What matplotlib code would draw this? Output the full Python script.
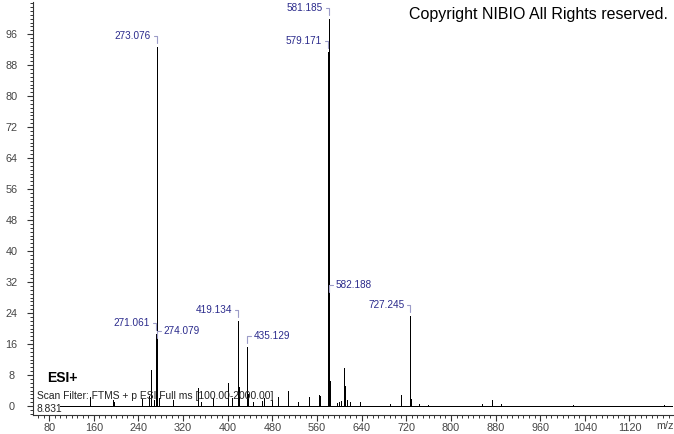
import matplotlib
matplotlib.use('Agg')
import matplotlib.pyplot as plt
from matplotlib.ticker import MultipleLocator
plt.rcParams['font.family'] = ['Liberation Sans', 'DejaVu Sans']

# labelled peaks (m/z, relative abundance)
label_mz = [271.061, 273.076, 274.079, 419.134, 435.129, 579.171, 581.185, 582.188, 727.245]
label_int = [18.5, 92.6, 16.5, 21.9, 15.2, 91.3, 100.0, 28.3, 23.2]
# labels drawn on the right side of their peak
right_side = [274.079, 435.129, 582.188]

# small unlabelled peaks
minor_mz = [153, 194, 197, 246, 259, 262, 268, 277, 302, 347, 352, 374, 400, 407,
            420.137, 436.13, 445, 461, 465, 480, 490.5, 508.5, 526, 546, 563, 565,
            580.18, 583.19, 595, 600, 603, 609, 611, 613, 619, 637, 691, 710, 728.25, 743,
            759, 855, 873, 874, 889, 1018, 1182]
minor_int = [2.3, 1.5, 1.0, 1.8, 2.5, 9.3, 1.5, 2.0, 1.5, 4.6, 1.0, 2.0, 5.9, 2.0,
             5.0, 3.0, 1.0, 1.2, 2.0, 1.5, 2.2, 3.9, 1.0, 2.2, 2.8, 2.5,
             30.0, 6.5, 0.8, 1.0, 1.2, 9.8, 5.2, 1.5, 1.0, 1.0, 0.5, 2.8, 1.8, 0.5,
             0.3, 0.5, 1.5, 0.8, 0.5, 0.3, 0.3]

scan_start = 100
xmin, xmax = 51, 1198
ymin, ymax = -2.32, 104.3

fig = plt.figure(figsize=(6.74, 4.34), dpi=100)
ax = fig.add_axes([33 / 674, 19 / 434, 640 / 674, 413 / 434])

ax.hlines(0, scan_start, xmax, color='black', lw=0.7, antialiased=False, zorder=3)
ax.vlines(minor_mz, 0, minor_int, color='black', lw=0.7, antialiased=False, zorder=3)
ax.vlines(label_mz, 0, label_int, color='black', lw=0.7, antialiased=False, zorder=3)

navy = '#2b2b8c'
lav = '#9c9cc8'
for mz, h in zip(label_mz, label_int):
    right = mz in right_side
    ax.annotate(f'{mz:.3f}', xy=(mz, h),
                xytext=(4.3 if right else -4.3, 7.9), textcoords='offset points',
                ha='left' if right else 'right', va='center',
                fontsize=7.2, color=navy, zorder=4,
                arrowprops=dict(arrowstyle='-', color=lav, lw=0.8,
                                shrinkA=0, shrinkB=2.9,
                                connectionstyle='angle,angleA=0,angleB=90,rad=0'))

ax.annotate('8.831', xy=(scan_start, 0), xytext=(1.5, -2), textcoords='offset points',
            ha='right', va='center', fontsize=7.4, color='#222222')

ax.set_xlim(xmin, xmax)
ax.set_ylim(ymin, ymax)
ax.set_xticks(range(80, 1121, 80))
ax.set_yticks(range(0, 97, 8))
ax.xaxis.set_minor_locator(MultipleLocator(10))
ax.yaxis.set_minor_locator(MultipleLocator(1))

for s in ['top', 'right']:
    ax.spines[s].set_visible(False)
for s in ['left', 'bottom']:
    ax.spines[s].set_color('#333333')
    ax.spines[s].set_linewidth(0.8)

ax.tick_params(axis='x', which='major', length=4.5, width=0.8, color='#333333',
               labelsize=7.8, labelcolor='#444444', pad=1)
ax.tick_params(axis='x', which='minor', length=2.5, width=0.7, color='#333333')
ax.tick_params(axis='y', which='major', length=4, width=0.8, color='#333333',
               labelsize=7.8, labelcolor='#444444', pad=11.5)
ax.tick_params(axis='y', which='minor', length=2, width=0.7, color='#333333')
for t in ax.get_yticklabels():
    t.set_horizontalalignment('center')

fig.text(665 / 674, 1 - 426 / 434, 'm/z', ha='center', va='center',
         fontsize=7.8, color='#444444')
fig.text(668 / 674, 1 - 14 / 434, 'Copyright NIBIO All Rights reserved.',
         ha='right', va='center', fontsize=11.5, color='black')
fig.text(47 / 674, 1 - 378 / 434, 'ESI+', ha='left', va='center',
         fontsize=10, fontweight='bold', color='black')
fig.text(37 / 674, 1 - 396 / 434, 'Scan Filter: FTMS + p ESI Full ms [100.00-2000.00]',
         ha='left', va='center', fontsize=7.35, color='#222222')

fig.savefig('out.png', dpi=100)
